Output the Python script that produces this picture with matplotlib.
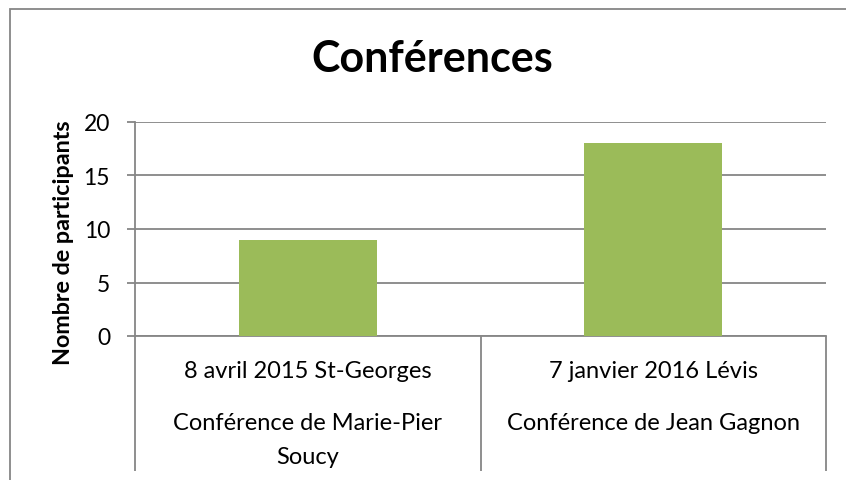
import matplotlib.pyplot as plt
from matplotlib.patches import Rectangle

# data
dates = ["8 avril 2015 St-Georges", "7 janvier 2016 Lévis"]
speakers = ["Conférence de Marie-Pier\nSoucy", "Conférence de Jean Gagnon"]
participants = [9, 18]
yticks = [0, 5, 10, 15, 20]

green = "#9BBB59"
gray = "#868686"
W, H = 846, 481

plt.rcParams['font.family'] = ['Lato', 'DejaVu Sans']

fig = plt.figure(figsize=(W / 100, H / 100), dpi=100)

# outer chart border (right and bottom fall outside the picture)
fig.add_artist(Rectangle((10 / W, -0.1), 1.2, 1 - 10 / H + 0.1,
                         transform=fig.transFigure, fill=False,
                         edgecolor=gray, linewidth=1.3))

left, right, top, bottom = 135, 826, 123, 337
ax = fig.add_axes([left / W, 1 - bottom / H, (right - left) / W, (bottom - top) / H])

x = list(range(len(participants)))
ax.bar(x, participants, width=0.4, color=green, zorder=3)

ax.set_xlim(-0.5, len(participants) - 0.5)
ax.set_ylim(0, 20)
ax.set_yticks(yticks)
ax.yaxis.grid(True, color=gray, linewidth=1.3)
ax.set_axisbelow(True)
for s in ["top", "right"]:
    ax.spines[s].set_visible(False)
for s in ["left", "bottom"]:
    ax.spines[s].set_color(gray)
    ax.spines[s].set_linewidth(1.3)
ax.tick_params(axis="y", length=6, width=1.3, color=gray, labelsize=16.5, pad=12)

# category separators as long ticks
ax.set_xticks([i - 0.5 for i in range(len(participants) + 1)])
ax.set_xticklabels([])
ax.tick_params(axis="x", length=(472 - bottom) * 0.72, width=1.3, color=gray)

trans = ax.get_xaxis_transform()
for i in x:
    ax.text(i, -(372 - bottom) / (bottom - top), dates[i], transform=trans,
            ha="center", va="center", fontsize=17)
    for k, line in enumerate(speakers[i].split("\n")):
        ax.text(i, -(424 + 34 * k - bottom) / (bottom - top), line, transform=trans,
                ha="center", va="center", fontsize=17)

ax.set_ylabel("Nombre de participants", fontsize=16.8, fontweight="bold")
ax.yaxis.set_label_coords((74 - left) / (right - left), (bottom - 243) / (bottom - top))

fig.text(432 / W, 1 - 59 / H, "Conférences", ha="center", va="center",
         fontsize=31, fontweight="bold")

fig.savefig("out.png", dpi=100)
